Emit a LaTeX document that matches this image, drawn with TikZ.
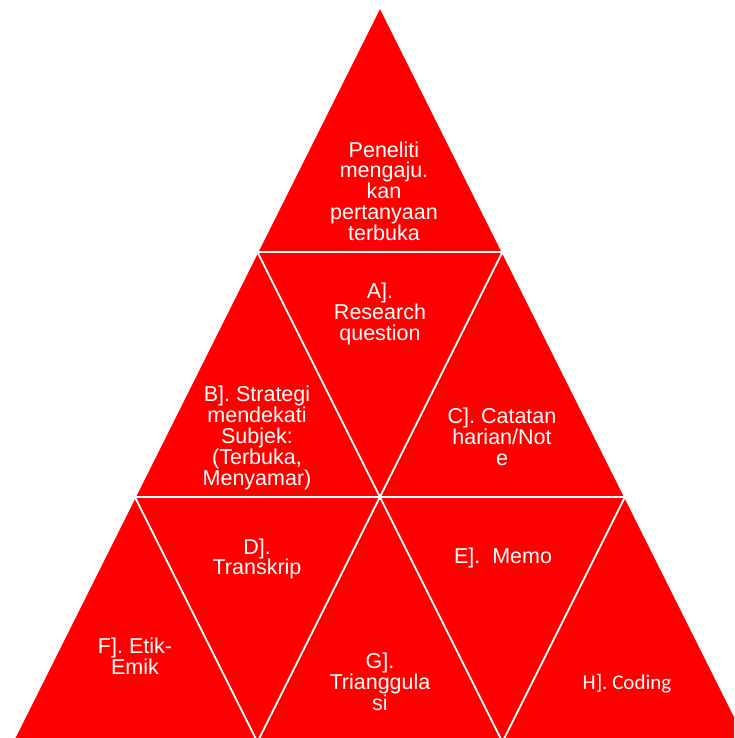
\documentclass[tikz,border=0pt]{standalone}
\usepackage{fontspec}
\setmainfont{Liberation Sans}
\newfontfamily\carlito{Carlito}
\definecolor{tri}{HTML}{FF0000}
\begin{document}
\begin{tikzpicture}[x=1pt,y=-1pt,
  tripart/.style={fill=tri,draw=white,line width=1.6pt,line join=round},
  lbl/.style={text=white,align=center,inner sep=0pt,font=\fontsize{21.5}{20.8}\selectfont}]
\useasboundingbox (0,0) rectangle (734,738);
\clip (0,0) rectangle (734,738);
% vertices
\coordinate (T) at (380,7);
\coordinate (L1) at (257.5,252);
\coordinate (R1) at (502.5,252);
\coordinate (L2) at (135,497);
\coordinate (M2) at (380,497);
\coordinate (R2) at (625,497);
\coordinate (B0) at (12.5,742);
\coordinate (B1) at (257.5,742);
\coordinate (B2) at (502.5,742);
\coordinate (B3) at (747.5,742);
% triangles
\path[tripart] (T) -- (L1) -- (R1) -- cycle;
\path[tripart] (L1) -- (L2) -- (M2) -- cycle;
\path[tripart] (L1) -- (R1) -- (M2) -- cycle;
\path[tripart] (R1) -- (M2) -- (R2) -- cycle;
\path[tripart] (L2) -- (B0) -- (B1) -- cycle;
\path[tripart] (L2) -- (M2) -- (B1) -- cycle;
\path[tripart] (M2) -- (B1) -- (B2) -- cycle;
\path[tripart] (M2) -- (R2) -- (B2) -- cycle;
\path[tripart] (R2) -- (B2) -- (B3) -- cycle;
% labels
\node[lbl] (top) at (384,191) {Peneliti\\mengaju.\\kan\\pertanyaan\\terbuka};
\node[lbl] (a) at (380,314) {A].\\Research\\question};
\node[lbl] (b) at (257,438) {B]. Strategi\\mendekati\\Subjek:\\(Terbuka,\\Menyamar)};
\node[lbl] (c) at (502,437) {C]. Catatan\\harian/Not\\e};
\node[lbl] (d) at (257,559) {D].\\Transkrip};
\node[lbl] (e) at (503,558) {E].\ \ Memo};
\node[lbl] (f) at (135,656) {F]. Etik-\\Emik};
\node[lbl] (g) at (380,682) {G].\\Trianggula\\si};
\node[lbl,font=\carlito\fontsize{21}{21}\selectfont] (h) at (627,684) {H]. Coding};
\end{tikzpicture}
\end{document}
